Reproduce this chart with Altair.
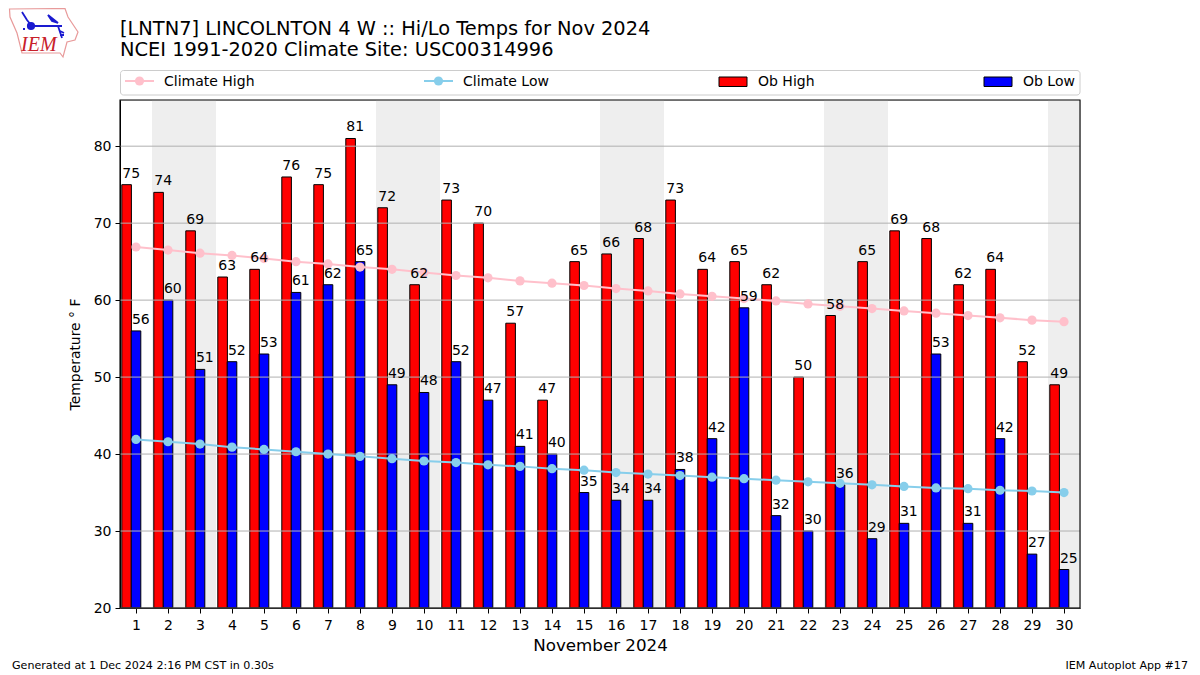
import urllib.parse
import altair as alt
import pandas as pd

days = list(range(1, 31))
ob_high = [75,74,69,63,64,76,75,81,72,62,73,70,57,47,65,66,68,73,64,65,62,50,58,65,69,68,62,64,52,49]
ob_low = [56,60,51,52,53,61,62,65,49,48,52,47,41,40,35,34,34,38,42,59,32,30,36,29,31,53,31,42,27,25]
clim_high = [66.9,66.5,66.1,65.8,65.4,65.0,64.7,64.3,64.0,63.6,63.2,62.9,62.5,62.2,61.9,61.5,61.2,60.8,60.5,60.2,59.9,59.5,59.2,58.9,58.6,58.3,58.0,57.7,57.4,57.2]
clim_low = [41.9,41.6,41.3,40.9,40.6,40.3,40.0,39.7,39.4,39.1,38.9,38.6,38.4,38.1,37.9,37.6,37.4,37.2,37.0,36.8,36.6,36.4,36.2,36.0,35.8,35.6,35.5,35.3,35.2,35.0]
weekend_start = [1.5, 8.5, 15.5, 22.5, 29.5]
weekend_end = [3.5, 10.5, 17.5, 24.5, 30.5]
grid_values = [20, 30, 40, 50, 60, 70, 80]

FONT = "DejaVu Sans"
df = pd.DataFrame(dict(day=days, high=ob_high, low=ob_low, chigh=clim_high, clow=clim_low))
shade_df = pd.DataFrame(dict(s=weekend_start, e=weekend_end))
grid_df = pd.DataFrame(dict(g=grid_values))

X_SCALE = alt.Scale(domain=[0.5, 30.5], nice=False, zero=False, padding=0)
Y_SCALE = alt.Scale(domain=[20, 86], nice=False, zero=False, padding=0)
AXIS = dict(grid=False, labelFontSize=14, titleFontSize=16.7, titleFontWeight="normal",
            labelColor="black", titleColor="black", domainColor="black", tickColor="black",
            tickSize=5, labelFont=FONT, titleFont=FONT, labelOverlap=False)
X_AXIS = alt.X("day:Q", scale=X_SCALE,
               axis=alt.Axis(values=days, title="November 2024", format="d", titlePadding=5, labelPadding=5, **AXIS))
Y_AXIS = alt.Y("high:Q", scale=Y_SCALE,
               axis=alt.Axis(values=grid_values, title="Temperature ° F", titlePadding=11, labelPadding=4,
                             **{**AXIS, "titleFontSize": 13.9}))
X = alt.X("day:Q", scale=X_SCALE, axis=None)

def Yq(field):
    return alt.Y(f"{field}:Q", scale=Y_SCALE, axis=None)

axes = alt.Chart(df).mark_point(opacity=0).encode(x=X_AXIS, y=Y_AXIS)

shade = alt.Chart(shade_df).mark_rect(color="#eeeeee").encode(
    x=alt.X("s:Q", scale=X_SCALE, axis=None), x2="e:Q")

BAR = dict(width=9.6, stroke="black", strokeWidth=1)
high_bars = alt.Chart(df).mark_bar(color="#ff0000", xOffset=-9.4, **BAR).encode(x=X, y=Yq("high"), y2=alt.datum(20))
low_bars = alt.Chart(df).mark_bar(color="#0000ff", **BAR).encode(x=X, y=Yq("low"), y2=alt.datum(20))

grid = alt.Chart(grid_df).mark_rule(color="#b0b0b0", strokeWidth=1).encode(y=Yq("g"))

def climate(field, color):
    enc = dict(x=X, y=Yq(field))
    return (alt.Chart(df).mark_line(color=color, strokeWidth=2).encode(**enc)
            + alt.Chart(df).mark_circle(color=color, opacity=1, size=85).encode(**enc))

LABEL = dict(font=FONT, fontSize=14, color="black", align="center", baseline="alphabetic", dy=-7)
high_text = alt.Chart(df).mark_text(dx=-4.8, **LABEL).encode(x=X, y=Yq("high"), text="high:Q")
low_text = alt.Chart(df).mark_text(dx=4.8, **LABEL).encode(x=X, y=Yq("low"), text="low:Q")

# page position helpers: plot origin is at page (120, 100)
def px(v):
    return alt.value(v - 120)
def py(v):
    return alt.value(v - 100)

one = pd.DataFrame({"a": [0]})

frame = alt.Chart(one).mark_rect(fill="transparent", stroke="black", strokeWidth=1.1, clip=False).encode(
    x=px(120), x2=px(1080), y=py(100), y2=py(608))

def label(text, x, y, size=14, align="left", color="black", font=FONT, **kw):
    return alt.Chart(one).mark_text(text=text, font=font, fontSize=size, align=align,
                                    baseline="middle", color=color, clip=False, **kw).encode(x=px(x), y=py(y))

legend_box = alt.Chart(one).mark_rect(fill="white", stroke="#cccccc", strokeWidth=1, cornerRadius=3, clip=False).encode(
    x=px(120.5), x2=px(1080), y=py(70.5), y2=py(95))

def legend_line(x, color):
    return (alt.Chart(one).mark_rule(color=color, strokeWidth=2, clip=False).encode(x=px(x), x2=px(x + 29), y=py(81))
            + alt.Chart(one).mark_point(filled=True, shape="circle", size=85, opacity=1, color=color, clip=False).encode(x=px(x + 14.5), y=py(81)))

def legend_swatch(x, color):
    return alt.Chart(one).mark_rect(fill=color, stroke="black", strokeWidth=1, clip=False).encode(
        x=px(x), x2=px(x + 28), y=py(77), y2=py(86.5))

logo_svg = ('<svg xmlns="http://www.w3.org/2000/svg" width="120" height="70" viewBox="0 0 120 70">'
            '<path d="M9.5 9 L65 8.5 L68 17 L78 32 L75 40 L67 42 L63 57 L60 53 L22 53 L17 33 L10 17 Z" '
            'fill="none" stroke="#e89a9a" stroke-width="1.2"/>'
            '<g stroke="#1a1ad0" fill="none" stroke-width="1.8">'
            '<path d="M32 26 L62 26 M58 26 L62 38 M22 12 L27 20 L31 25"/>'
            '<path d="M48 15 L58 23 L52 21 Z" fill="#1a1ad0"/>'
            '<circle cx="31" cy="26" r="3.2" fill="#1a1ad0"/>'
            '<path d="M23 29 L25 29 M60 31 L64 33 M60 35 L64 35"/></g></svg>')
logo_url = "data:image/svg+xml," + urllib.parse.quote(logo_svg)
logo = alt.Chart(one).mark_image(url=logo_url, width=120, height=70, align="left", baseline="top", clip=False).encode(
    x=px(0), y=py(0))
logo_text = label("IEM", 21, 45, size=20, color="#c8202a", font="Liberation Serif", fontStyle="italic")

chart = alt.layer(
    axes, shade, high_bars, low_bars, grid,
    climate("chigh", "#ffc0cb"), climate("clow", "#87ceeb"),
    high_text, low_text, frame,
    logo, logo_text,
    label("[LNTN7] LINCOLNTON 4 W :: Hi/Lo Temps for Nov 2024", 120, 29, size=19.4),
    label("NCEI 1991-2020 Climate Site: USC00314996", 120, 50, size=19.4),
    legend_box,
    legend_line(125, "#ffc0cb"), label("Climate High", 164, 81.5),
    legend_line(424, "#87ceeb"), label("Climate Low", 463, 81.5),
    legend_swatch(719, "#ff0000"), label("Ob High", 758, 81.5),
    legend_swatch(984, "#0000ff"), label("Ob Low", 1023, 81.5),
    label("Generated at 1 Dec 2024 2:16 PM CST in 0.30s", 12, 666, size=11.1),
    label("IEM Autoplot App #17", 1188, 666, size=11.1, align="right"),
).resolve_scale(x="shared", y="shared").resolve_axis(x="independent", y="independent").properties(
    width=960, height=508,
    autosize=alt.AutoSizeParams(type="none"),
    padding={"left": 112, "top": 92, "right": 112, "bottom": 65},
).configure_view(stroke="black", strokeWidth=1.2).configure(background="white")

chart.save("out.html", embed_options={"renderer": "svg", "actions": False})
